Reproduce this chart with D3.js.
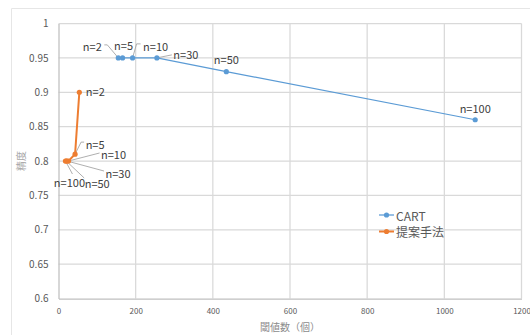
<!DOCTYPE html>
<html>
<head>
<meta charset="utf-8">
<script src="https://cdn.jsdelivr.net/npm/d3@7"></script>
<style>
  html, body { margin: 0; padding: 0; background: #fff; }
  svg { display: block; }
  text { font-family: "Noto Sans CJK JP", "Noto Sans", sans-serif; }
</style>
</head>
<body>
<svg id="chart" width="530" height="335"></svg>
<script>
// Threshold counts (x) and accuracy (y) for each n
const nLabels = ["n=2", "n=5", "n=10", "n=30", "n=50", "n=100"];
const cartThresholds = [155, 166, 192, 255, 435, 1080];
const cartAccuracy   = [0.95, 0.95, 0.95, 0.95, 0.93, 0.86];
const propThresholds = [54, 43, 26, 22, 20, 18];
const propAccuracy   = [0.90, 0.81, 0.80, 0.80, 0.80, 0.80];
const seriesNames = ["CART", "提案手法"];
const xTicks = [0, 200, 400, 600, 800, 1000, 1200];
const yTicks = [0.6, 0.65, 0.7, 0.75, 0.8, 0.85, 0.9, 0.95, 1];
const xTitle = "閾値数（個）";
const yTitle = "精度";

// Label placement relative to each point: text centre offset and leader start
const cartLabelLayout = [
  { dx: -26, dy: -12, lead: [-14, -13, -11, -13] },
  { dx: 1,   dy: -13, lead: null },
  { dx: 23,  dy: -12, lead: [8, -14, 4, -14] },
  { dx: 29,  dy: -4,  lead: [15, -3, 15, -3] },
  { dx: 0,   dy: -13, lead: null },
  { dx: 0,   dy: -12, lead: null }
];
const propLabelLayout = [
  { dx: 16, dy: -1,  lead: null },
  { dx: 20, dy: -10, lead: [9, -12, 6, -12] },
  { dx: 45, dy: -7,  lead: [31, -8, 31, -8] },
  { dx: 51, dy: 12,  lead: [37, 10, 37, 10] },
  { dx: 31, dy: 22,  lead: [18, 17, 18, 17] },
  { dx: 4,  dy: 21,  lead: [7, 13, 7, 13] }
];

const colors = ["#5b9bd5", "#ed7d31"];

const svg = d3.select("#chart");

// Outer chart frame
svg.append("path")
  .attr("d", "M11.5,335 L11.5,8.5 L530,8.5")
  .attr("fill", "none")
  .attr("stroke", "#e6e6e6")
  .attr("stroke-width", 1);

const x = d3.scaleLinear().domain([0, 1200]).range([58.5, 521.5]);
const y = d3.scaleLinear().domain([0.6, 1]).range([298.5, 23.5]);

// Gridlines
svg.append("g").selectAll("line.v").data(xTicks.slice(1)).join("line")
  .attr("x1", d => x(d)).attr("x2", d => x(d))
  .attr("y1", y(1)).attr("y2", y(0.6))
  .attr("stroke", "#d9d9d9").attr("stroke-width", 1.25);
svg.append("g").selectAll("line.h").data(yTicks.slice(1)).join("line")
  .attr("x1", x(0)).attr("x2", x(1200))
  .attr("y1", d => y(d)).attr("y2", d => y(d))
  .attr("stroke", "#d9d9d9").attr("stroke-width", 1.25);

// Axes
const xAxis = svg.append("g")
  .attr("transform", `translate(0,${y(0.6)})`)
  .call(d3.axisBottom(x).tickValues(xTicks).tickSize(0).tickPadding(10).tickFormat(d3.format("d")));
xAxis.select(".domain").attr("stroke", "#bfbfbf").attr("stroke-width", 1.25);
xAxis.selectAll("text").attr("fill", "#595959").style("font-size", "8px")
  .style("font-family", '"Noto Sans CJK JP", sans-serif');

const yAxis = svg.append("g")
  .attr("transform", `translate(${x(0)},0)`)
  .call(d3.axisLeft(y).tickValues(yTicks).tickSize(0).tickPadding(10).tickFormat(d => d3.format("")(+d.toFixed(2))));
yAxis.select(".domain").attr("stroke", "#bfbfbf").attr("stroke-width", 1.25);
yAxis.selectAll("text").attr("fill", "#595959").style("font-size", "10px")
  .style("font-family", '"Noto Sans CJK JP", sans-serif');

// Axis titles
svg.append("text")
  .attr("x", (x(0) + x(1200)) / 2).attr("y", 326)
  .attr("text-anchor", "middle").attr("dominant-baseline", "central")
  .attr("fill", "#8c8c8c").style("font-size", "10px")
  .text(xTitle);
svg.append("text")
  .attr("transform", `translate(20,${(y(0.6) + y(1)) / 2}) rotate(-90)`)
  .attr("text-anchor", "middle").attr("dominant-baseline", "central")
  .attr("fill", "#a6a6a6").style("font-size", "10px")
  .text(yTitle);

const series = [
  { xs: cartThresholds, ys: cartAccuracy, layout: cartLabelLayout, width: 1.25 },
  { xs: propThresholds, ys: propAccuracy, layout: propLabelLayout, width: 2 }
];

const line = d3.line().x(d => x(d[0])).y(d => y(d[1]));

series.forEach((s, si) => {
  const pts = s.xs.map((v, i) => [v, s.ys[i]]);
  const g = svg.append("g");

  // Leader lines to data labels
  pts.forEach((p, i) => {
    const L = s.layout[i];
    if (!L.lead) return;
    const px = x(p[0]), py = y(p[1]);
    g.append("path")
      .attr("d", `M${px + L.lead[0]},${py + L.lead[1]} L${px + L.lead[2]},${py + L.lead[3]} L${px},${py}`)
      .attr("fill", "none").attr("stroke", "#a6a6a6").attr("stroke-width", 0.9);
  });

  g.append("path").datum(pts)
    .attr("d", line)
    .attr("fill", "none").attr("stroke", colors[si]).attr("stroke-width", s.width);

  g.selectAll("circle").data(pts).join("circle")
    .attr("cx", d => x(d[0])).attr("cy", d => y(d[1])).attr("r", 2.6)
    .attr("fill", colors[si]);
});

// Data labels
series.forEach(s => {
  s.xs.forEach((v, i) => {
    const L = s.layout[i];
    svg.append("text")
      .attr("x", x(v) + L.dx).attr("y", y(s.ys[i]) + L.dy)
      .attr("text-anchor", "middle").attr("dominant-baseline", "central")
      .attr("fill", "#404040").style("font-size", "11px")
      .text(nLabels[i]);
  });
});

// Legend
const legend = svg.append("g");
seriesNames.forEach((name, i) => {
  const ly = 215 + i * 16.5;
  legend.append("line")
    .attr("x1", 379).attr("x2", 394).attr("y1", ly).attr("y2", ly)
    .attr("stroke", colors[i]).attr("stroke-width", i === 0 ? 1.25 : 2);
  legend.append("circle").attr("cx", 386.5).attr("cy", ly).attr("r", 2.6).attr("fill", colors[i]);
  legend.append("text")
    .attr("x", 396).attr("y", ly)
    .attr("dominant-baseline", "central")
    .attr("fill", "#595959").style("font-size", "12px")
    .text(name);
});
</script>
</body>
</html>
